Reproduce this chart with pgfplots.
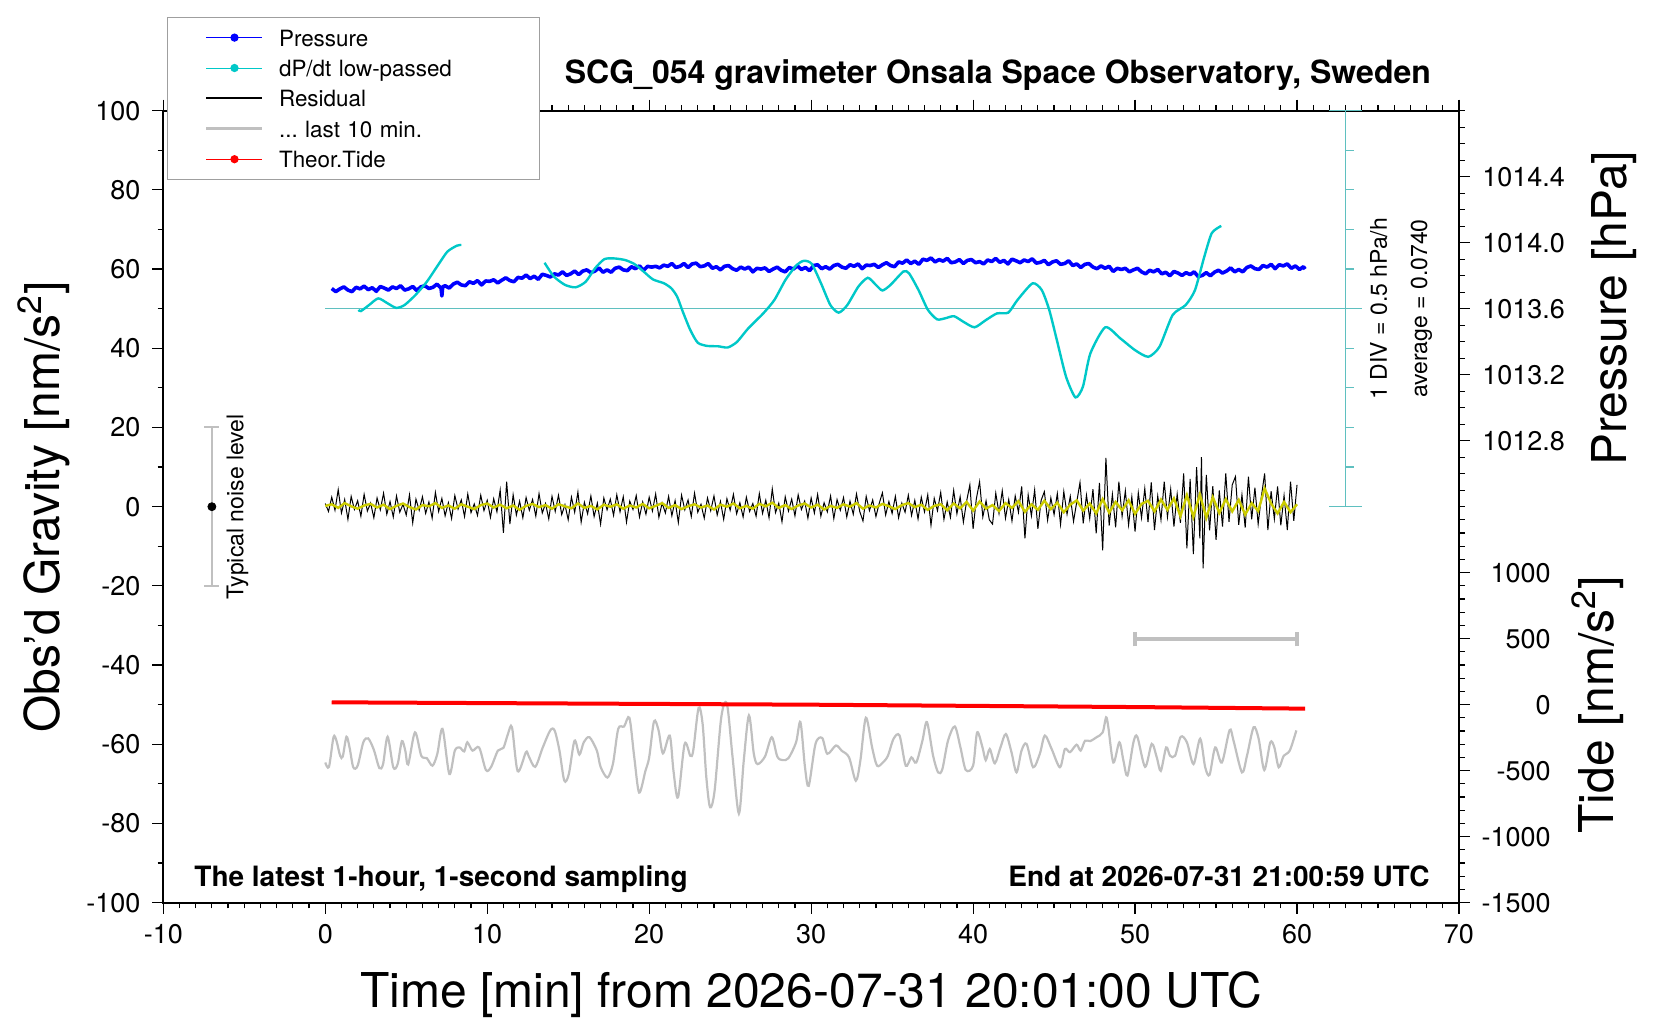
\documentclass[border=0pt]{standalone}
\usepackage{fontspec}
\setmainfont{TeX Gyre Heros}
\usepackage{pgfplots}
\pgfplotsset{compat=1.18}
\definecolor{pblue}{RGB}{0,0,255}
\definecolor{dcyan}{RGB}{0,200,200}
\definecolor{bcyan}{RGB}{95,192,192}
\definecolor{resyel}{RGB}{204,204,0}
\definecolor{lgray}{RGB}{192,192,192}
\definecolor{tred}{RGB}{255,0,0}
\pgfplotsset{
  base/.style={at={(0pt,0pt)}, anchor=south west, scale only axis,
    width=647.85pt, height=396pt, xmin=-10, xmax=70,
    tick align=outside, major tick length=5.5pt, minor tick length=2.8pt,
    tick style={black, line width=0.6pt},
    axis line style={line width=1pt, -},
    /pgf/number format/assume math mode=true,
    /pgf/number format/1000 sep={},
    tick label style={font=\fontsize{13.5}{16}\selectfont},
  }
}
\begin{document}
\frenchspacing
\begin{tikzpicture}
\path[use as bounding box] (-81.65pt,-58.65pt) rectangle (748.35pt,451.35pt);
\begin{axis}[base,
  ymin=-100, ymax=100,
  ytick={-100,-80,...,100}, minor ytick={-90,-70,...,90},
  xtick={-10,0,...,70}, minor x tick num=9,
  ytick pos=left, xtick pos=both,
  xticklabel style={inner sep=0pt, anchor=north, yshift=-5.25pt},
  yticklabel style={inner sep=0pt, anchor=east, xshift=-5.8pt},
  legend image code/.code={\draw[mark repeat=2,mark phase=2,#1] plot coordinates {(0pt,0pt) (14pt,0pt) (28pt,0pt)};},
  legend cell align=left,
  legend style={at={(axis description cs:0.00286,1.1189)}, anchor=north west,
    draw=gray!75, line width=0.6pt, fill=white,
    inner xsep=18.65pt, inner ysep=5pt,
    font=\fontsize{11.2}{13}\selectfont,
    row sep=4.7pt, column sep=7.5pt,
    nodes={inner sep=0pt, text height=9.5pt, text depth=1pt, text width=111.6pt}},
]
\addlegendimage{pblue, line width=0.5pt, mark=*, mark size=1.8pt}
\addlegendentry{Pressure}
\addlegendimage{dcyan, line width=0.5pt, mark=*, mark size=1.8pt}
\addlegendentry{dP/dt low-passed}
\addlegendimage{black, line width=1pt}
\addlegendentry{Residual}
\addlegendimage{lgray, line width=1.6pt}
\addlegendentry{... last 10 min.}
\addlegendimage{tred, line width=0.5pt, mark=*, mark size=1.8pt}
\addlegendentry{Theor.Tide}

% last 10 min residual (gray)
\addplot[lgray, line width=1.1pt, smooth, tension=0.5, forget plot] coordinates {
(0.0,-64.6) (0.23,-65.7) (0.51,-58.2) (0.69,-59.1) (0.92,-62.9) (1.08,-63.1) (1.31,-58.1) (1.5,-60.8)
(1.73,-65.8) (2.0,-65.4) (2.35,-59.5) (2.65,-58.5) (3.0,-61.4) (3.34,-66.0) (3.57,-65.0) (3.85,-58.1)
(4.2,-65.8) (4.47,-65.0) (4.73,-59.2) (4.94,-61.6) (5.12,-65.1) (5.54,-57.0) (5.93,-62.9) (6.27,-63.5)
(6.62,-65.4) (6.92,-62.4) (7.24,-56.1) (7.66,-67.5) (8.0,-61.6) (8.3,-60.8) (8.58,-61.8) (8.77,-59.5)
(9.09,-61.6) (9.5,-60.8) (9.92,-66.5) (10.24,-65.7) (10.66,-61.6) (11.0,-60.9) (11.28,-57.4) (11.53,-55.7)
(11.88,-66.8) (12.39,-62.0) (12.55,-62.9) (12.96,-65.7) (13.43,-60.8) (13.89,-56.5) (14.16,-56.5) (14.46,-61.6)
(14.76,-69.2) (15.04,-67.5) (15.39,-59.1) (15.69,-62.6) (15.96,-59.5) (16.31,-58.2) (16.77,-61.6) (17.0,-65.7)
(17.42,-68.4) (17.76,-65.0) (18.09,-56.1) (18.45,-55.5) (18.78,-53.3) (19.08,-63.3) (19.38,-72.2) (19.77,-66.7)
(20.0,-63.3) (20.3,-54.2) (20.58,-56.5) (20.85,-62.3) (21.27,-57.8) (21.5,-66.7) (21.78,-73.4) (22.19,-59.9)
(22.54,-62.9) (22.72,-61.6) (23.05,-50.8) (23.3,-54.9) (23.53,-68.4) (23.76,-75.9) (24.04,-71.7) (24.45,-53.2)
(24.8,-49.8) (25.15,-63.3) (25.54,-77.5) (25.84,-64.1) (26.16,-52.7) (26.46,-62.4) (26.69,-65.0) (27.15,-63.1)
(27.57,-58.2) (27.91,-63.1) (28.24,-64.0) (28.6,-63.5) (29.07,-59.5) (29.34,-54.4) (29.62,-65.8) (29.85,-70.5)
(30.27,-59.9) (30.68,-58.4) (31.0,-62.4) (31.53,-60.3) (31.88,-61.6) (32.34,-63.3) (32.76,-69.2) (33.04,-64.1)
(33.38,-53.3) (33.77,-60.9) (34.07,-65.4) (34.43,-64.6) (34.74,-62.9) (35.09,-58.6) (35.46,-57.8) (35.84,-65.4)
(36.19,-63.3) (36.49,-64.6) (36.87,-59.1) (37.15,-54.4) (37.53,-62.9) (37.84,-67.1) (38.1,-66.3) (38.45,-59.1)
(38.87,-55.5) (39.22,-60.8) (39.55,-66.5) (40.0,-65.4) (40.25,-57.0) (40.58,-60.8) (40.78,-64.0) (41.03,-61.2)
(41.34,-64.8) (41.69,-60.8) (42.02,-57.4) (42.37,-62.0) (42.68,-67.1) (42.99,-61.6) (43.3,-59.9) (43.71,-65.8)
(44.12,-62.4) (44.43,-57.8) (44.85,-61.2) (45.36,-65.8) (45.67,-61.2) (45.98,-62.0) (46.39,-60.1) (46.64,-61.6)
(46.91,-59.1) (47.22,-59.2) (47.63,-58.2) (48.0,-57.0) (48.21,-53.2) (48.35,-55.7) (48.66,-64.6) (49.03,-59.5)
(49.28,-64.1) (49.53,-67.9) (49.9,-59.5) (50.14,-58.1) (50.62,-65.7) (51.03,-59.9) (51.34,-63.3) (51.59,-66.7)
(51.92,-60.8) (52.16,-62.9) (52.47,-62.9) (52.82,-58.1) (53.2,-59.5) (53.61,-65.0) (54.02,-58.6) (54.33,-65.8)
(54.6,-67.7) (54.95,-60.8) (55.36,-64.6) (55.84,-56.4) (56.08,-59.1) (56.6,-67.1) (56.91,-62.9) (57.32,-55.7)
(57.63,-58.6) (57.98,-66.5) (58.35,-59.5) (58.6,-60.8) (58.87,-65.8) (59.18,-62.9) (59.55,-61.6) (59.96,-56.5)
};

% pressure (blue), plotted in gravity units
\addplot[pblue, line width=1.8pt, line join=round, forget plot] coordinates {
(0.4,55.1) (0.65,54.3) (0.9,55.0) (1.15,55.5) (1.4,54.7) (1.65,54.3) (1.9,55.4) (2.15,55.0) (2.4,55.7) (2.65,54.8)
(2.9,55.3) (3.15,54.4) (3.4,55.6) (3.65,55.2) (3.9,54.7) (4.15,55.5) (4.4,55.1) (4.65,55.8) (4.9,54.7) (5.15,55.0)
(5.4,55.6) (5.65,54.6) (5.9,55.5) (6.15,55.8) (6.4,55.1) (6.65,55.4) (6.9,56.2) (7.15,55.2) (7.2,53.2) (7.25,55.5)
(7.4,55.8) (7.65,55.2) (7.9,56.2) (8.15,56.7) (8.4,56.0) (8.65,55.8) (8.9,56.8) (9.15,56.4) (9.4,57.1) (9.65,56.0)
(9.9,57.0) (10.15,56.9) (10.4,57.3) (10.65,56.5) (10.9,57.2) (11.15,57.8) (11.4,57.1) (11.65,56.8) (11.9,57.9) (12.15,57.7)
(12.4,58.5) (12.65,57.6) (12.9,58.2) (13.15,57.4) (13.4,58.7) (13.65,58.4) (13.9,58.0) (14.15,58.8) (14.4,58.5) (14.65,59.3)
(14.9,58.4) (15.15,58.8) (15.4,59.5) (15.65,58.6) (15.9,59.5) (16.15,59.8) (16.4,59.1) (16.65,59.5) (16.9,60.3) (17.15,59.2)
(17.4,59.8) (17.65,59.2) (17.9,60.2) (18.15,60.5) (18.4,59.8) (18.65,59.6) (18.9,60.6) (19.15,60.1) (19.4,60.8) (19.65,59.7)
(19.9,60.7) (20.15,60.5) (20.4,60.7) (20.65,60.3) (20.9,61.0) (21.15,60.7) (21.4,61.4) (21.65,60.4) (21.9,60.7) (22.15,61.4)
(22.4,60.4) (22.65,61.3) (22.9,61.5) (23.15,60.6) (23.4,60.8) (23.65,61.4) (23.9,60.2) (24.15,60.6) (24.4,59.8) (24.65,60.7)
(24.9,60.9) (25.15,60.1) (25.4,59.7) (25.65,60.5) (25.9,60.0) (26.15,60.5) (26.4,59.3) (26.65,60.2) (26.9,60.0) (27.15,60.3)
(27.4,59.4) (27.65,60.0) (27.9,60.5) (28.15,59.7) (28.4,59.3) (28.65,60.4) (28.9,60.0) (29.15,60.8) (29.4,59.9) (29.65,60.4)
(29.9,59.6) (30.15,60.9) (30.4,61.1) (30.65,60.1) (30.9,60.6) (31.15,60.0) (31.4,60.9) (31.65,61.2) (31.9,60.5) (32.15,60.2)
(32.4,61.1) (32.65,60.7) (32.9,61.3) (33.15,60.1) (33.4,61.0) (33.65,60.9) (33.9,61.2) (34.15,60.4) (34.4,61.1) (34.65,61.6)
(34.9,60.9) (35.15,60.6) (35.4,61.8) (35.65,61.5) (35.9,62.3) (36.15,61.4) (36.4,62.0) (36.65,61.2) (36.9,62.5) (37.15,62.2)
(37.4,62.8) (37.65,61.8) (37.9,62.4) (38.15,62.0) (38.4,62.7) (38.65,61.6) (38.9,61.8) (39.15,62.4) (39.4,61.4) (39.65,62.2)
(39.9,62.4) (40.15,61.6) (40.4,61.9) (40.65,61.3) (40.9,62.3) (41.15,61.9) (41.4,62.7) (41.65,61.7) (41.9,62.2) (42.15,61.3)
(42.4,62.5) (42.65,62.1) (42.9,61.6) (43.15,62.3) (43.4,61.9) (43.65,62.6) (43.9,61.5) (44.15,61.7) (44.4,62.2) (44.65,61.1)
(44.9,61.8) (45.15,62.1) (45.4,61.2) (45.65,61.4) (45.9,62.1) (46.15,60.9) (46.4,61.3) (46.65,60.4) (46.9,61.2) (47.15,61.4)
(47.4,60.5) (47.65,60.1) (47.9,60.8) (48.15,60.2) (48.4,60.7) (48.65,59.4) (48.9,60.2) (49.15,59.9) (49.4,60.2) (49.65,59.3)
(49.9,59.8) (50.15,60.2) (50.4,59.3) (50.65,58.8) (50.9,59.7) (51.15,59.3) (51.4,59.9) (51.65,58.8) (51.9,59.2) (52.15,58.3)
(52.4,59.4) (52.65,59.0) (52.9,58.4) (53.15,59.1) (53.4,58.6) (53.65,59.3) (53.9,58.1) (54.15,58.4) (54.4,59.1) (54.65,58.3)
(54.9,59.2) (55.15,59.7) (55.4,59.0) (55.65,59.5) (55.9,60.3) (56.15,59.3) (56.4,59.9) (56.65,59.3) (56.9,60.4) (57.15,60.8)
(57.4,60.1) (57.65,59.9) (57.9,60.9) (58.15,60.5) (58.4,61.2) (58.65,60.1) (58.9,61.1) (59.15,60.8) (59.4,61.3) (59.65,60.2)
(59.9,60.8) (60.15,59.9) (60.4,60.6) (60.5,60.0)
};

% dP/dt scale (cyan)
\addplot[bcyan, line width=0.8pt, forget plot] coordinates {(0,50) (64,50)};
\addplot[bcyan, line width=0.8pt, forget plot] coordinates {(63,0) (63,100)};
\addplot[bcyan, line width=0.8pt, forget plot] coordinates {(62,0) (64,0)};
\addplot[bcyan, line width=0.8pt, forget plot] coordinates {(62,100) (64,100)};
\addplot[bcyan, line width=0.6pt, unbounded coords=jump, forget plot] coordinates {
(63,10) (63.5,10) (nan,nan) (63,20) (63.5,20) (nan,nan) (63,30) (63.5,30) (nan,nan) (63,40) (63.5,40) (nan,nan)
(63,60) (63.5,60) (nan,nan) (63,70) (63.5,70) (nan,nan) (63,80) (63.5,80) (nan,nan) (63,90) (63.5,90)};

% dP/dt low-passed (cyan)
\addplot[dcyan, line width=1.2pt, smooth, tension=0.4, forget plot] coordinates {
(2.05,49.7) (2.2,49.4) (2.7,50.9) (3.27,52.6) (3.85,51.35) (4.38,50.2) (4.89,50.9) (5.58,53.5) (6.27,56.8)
(6.97,61.05) (7.54,64.4) (8.12,65.9) (8.4,66.1)};
\addplot[dcyan, line width=1.2pt, smooth, tension=0.4, forget plot] coordinates {
(13.54,61.6) (14.12,58.1) (14.81,56.0) (15.46,55.4) (16.08,56.8) (16.66,60.2) (17.23,62.5) (17.81,62.7)
(18.5,62.3) (19.08,61.3) (19.65,59.4) (20.23,57.4) (20.92,56.4) (21.38,55.1) (21.73,53.0) (22.08,49.2)
(22.54,44.6) (23.0,41.4) (23.58,40.6) (24.27,40.5) (24.85,40.2) (25.42,41.6) (26.11,45.0) (27.04,48.8)
(27.73,52.2) (28.42,57.3) (29.11,61.05) (29.57,62.1) (30.04,61.3) (30.61,56.4) (31.19,50.9) (31.7,49.0)
(32.23,50.9) (32.92,55.6) (33.5,57.8) (34.0,56.0) (34.4,54.6) (34.9,56.0) (35.7,59.4) (36.05,58.9)
(36.63,54.7) (37.21,49.7) (37.78,47.3) (38.3,47.6) (38.82,48.1) (39.4,46.7) (40.09,45.3) (40.78,47.1)
(41.47,48.8) (42.17,49.0) (42.74,52.2) (43.67,56.4) (44.24,54.7) (44.7,49.7) (45.17,42.1) (45.74,32.8)
(46.32,27.6) (46.78,30.3) (47.24,38.7) (48.16,45.3) (49.09,42.5) (50.01,39.5) (50.82,37.85) (51.51,40.4)
(52.32,48.4) (53.12,50.9) (53.7,54.7) (54.28,63.2) (54.74,69.1) (55.32,70.9)};

% residual (black)
\addplot[black, line width=0.5pt, forget plot] coordinates {
(0.0,0.8) (0.2,-1.2) (0.4,2.4) (0.6,-0.9) (0.8,4.3) (1.0,-1.6) (1.2,1.8) (1.4,-3.2) (1.6,2.6) (1.8,-0.7)
(2.0,1.5) (2.2,-2.4) (2.4,3.1) (2.6,-1.1) (2.8,0.9) (3.0,-2.8) (3.2,2.2) (3.4,-0.8) (3.6,3.4) (3.8,-1.9)
(4.0,1.3) (4.2,-2.6) (4.4,2.7) (4.6,-1.4) (4.8,0.6) (5.0,-2.1) (5.2,3.0) (5.4,-4.1) (5.6,1.9) (5.8,-0.9)
(6.0,2.5) (6.2,-1.7) (6.4,1.2) (6.6,-2.9) (6.8,3.6) (7.0,-1.2) (7.2,2.1) (7.4,-2.3) (7.6,1.0) (7.8,-3.0)
(8.0,2.8) (8.2,-0.6) (8.4,1.7) (8.6,-2.5) (8.8,3.2) (9.0,-1.5) (9.2,0.7) (9.4,-2.2) (9.6,2.9) (9.8,-1.0)
(10.0,1.6) (10.2,-2.7) (10.4,2.0) (10.6,-1.3) (10.8,4.2) (11.0,-6.6) (11.2,6.3) (11.4,-4.4) (11.6,3.0) (11.8,-2.1)
(12.0,1.4) (12.2,-2.8) (12.4,2.3) (12.6,-0.9) (12.8,1.8) (13.0,-2.4) (13.2,3.3) (13.4,-1.6) (13.6,0.8) (13.8,-3.1)
(14.0,2.6) (14.2,-1.2) (14.4,2.9) (14.6,-2.0) (14.8,0.5) (15.0,-3.3) (15.2,2.4) (15.4,-1.4) (15.6,3.7) (15.8,-3.9)
(16.0,1.1) (16.2,-1.8) (16.4,2.7) (16.6,-2.5) (16.8,0.9) (17.0,-4.4) (17.2,2.2) (17.4,-0.8) (17.6,1.9) (17.8,-2.2)
(18.0,3.0) (18.2,-1.3) (18.4,2.5) (18.6,-3.9) (18.8,1.4) (19.0,-0.7) (19.2,2.8) (19.4,-2.6) (19.6,1.2) (19.8,-1.9)
(20.0,2.4) (20.2,-1.1) (20.4,3.2) (20.6,-2.7) (20.8,0.9) (21.0,-1.6) (21.2,2.6) (21.4,-2.3) (21.6,1.5) (21.8,-4.0)
(22.0,2.9) (22.2,-0.8) (22.4,1.7) (22.6,-2.5) (22.8,3.4) (23.0,-1.4) (23.2,0.6) (23.4,-2.9) (23.6,2.2) (23.8,-1.0)
(24.0,2.7) (24.2,-2.1) (24.4,1.3) (24.6,-3.2) (24.8,2.0) (25.0,-0.9) (25.2,3.1) (25.4,-1.8) (25.6,1.0) (25.8,-2.6)
(26.0,2.4) (26.2,-1.2) (26.4,0.8) (26.6,-2.4) (26.8,3.3) (27.0,-1.7) (27.2,1.6) (27.4,-2.8) (27.6,4.5) (27.8,-1.5)
(28.0,0.9) (28.2,-3.8) (28.4,2.5) (28.6,-1.1) (28.8,1.9) (29.0,-2.3) (29.2,3.0) (29.4,-0.7) (29.6,1.4) (29.8,-2.9)
(30.0,2.2) (30.2,-1.6) (30.4,3.1) (30.6,-2.4) (30.8,1.0) (31.0,-1.3) (31.2,2.7) (31.4,-3.0) (31.6,1.8) (31.8,-0.9)
(32.0,2.3) (32.2,-2.6) (32.4,1.4) (32.6,-1.9) (32.8,3.2) (33.0,-1.2) (33.2,-3.6) (33.4,2.6) (33.6,-1.0) (33.8,1.7)
(34.0,-2.5) (34.2,0.8) (34.4,3.5) (34.6,-2.1) (34.8,1.3) (35.0,-1.7) (35.2,2.6) (35.4,-2.8) (35.6,0.9) (35.8,-1.4)
(36.0,2.9) (36.2,-2.2) (36.4,1.6) (36.6,-3.1) (36.8,2.4) (37.0,-1.3) (37.2,3.0) (37.4,-4.7) (37.6,2.1) (37.8,-1.0)
(38.0,3.6) (38.2,-3.2) (38.4,1.2) (38.6,-2.7) (38.8,4.1) (39.0,-1.8) (39.2,2.5) (39.4,-3.9) (39.6,1.4) (39.8,5.5)
(40.0,-5.6) (40.2,2.0) (40.4,6.3) (40.6,-2.6) (40.8,1.5) (41.0,-3.3) (41.2,-4.4) (41.4,3.4) (41.6,-1.7) (41.8,4.0)
(42.0,-2.9) (42.2,1.8) (42.4,-3.6) (42.6,2.7) (42.8,-1.4) (43.0,5.1) (43.2,-8.0) (43.4,3.0) (43.6,-2.3) (43.8,4.2)
(44.0,-5.6) (44.2,1.6) (44.4,3.8) (44.6,-3.4) (44.8,2.2) (45.0,-2.0) (45.2,3.3) (45.4,-4.5) (45.6,3.8) (45.8,-1.9)
(46.0,2.6) (46.2,-3.7) (46.4,1.2) (46.6,6.1) (46.8,-4.2) (47.0,2.9) (47.2,-3.0) (47.4,4.4) (47.6,-6.7) (47.8,6.0)
(48.0,-11.0) (48.2,12.3) (48.4,-4.8) (48.6,3.1) (48.8,-5.2) (49.0,6.3) (49.2,-2.4) (49.4,4.0) (49.6,-4.6) (49.8,2.5)
(50.0,-6.3) (50.2,3.5) (50.4,-2.8) (50.6,4.6) (50.8,-3.9) (51.0,6.1) (51.2,-5.9) (51.4,2.7) (51.6,-3.3) (51.8,6.3)
(52.0,-2.6) (52.2,4.4) (52.4,-5.0) (52.6,3.2) (52.8,-4.1) (53.0,8.4) (53.2,-10.5) (53.4,7.0) (53.6,-12.0) (53.8,10.0)
(54.0,-8.0) (54.1,12.5) (54.2,-15.6) (54.4,8.0) (54.6,-6.0) (54.8,5.2) (55.0,-8.4) (55.2,4.1) (55.4,-5.0) (55.6,8.4)
(55.8,-3.8) (56.0,5.5) (56.2,7.6) (56.4,-4.6) (56.6,3.0) (56.8,-5.3) (57.0,7.6) (57.2,-3.2) (57.4,4.8) (57.6,-4.4)
(57.8,2.6) (58.0,8.4) (58.2,-5.9) (58.4,3.9) (58.6,-3.1) (58.8,5.1) (59.0,-4.7) (59.2,2.8) (59.4,-5.9) (59.6,6.3)
(59.8,-3.6) (60.0,5.5)
};

% smoothed residual (yellow)
\addplot[resyel, line width=1.2pt, forget plot] coordinates {
(0.0,0.2) (0.4,0.6) (0.8,-0.3) (1.2,0.9) (1.6,0.1) (2.0,-0.5) (2.4,0.3) (2.8,0.7) (3.2,-0.2) (3.6,0.5)
(4.0,-0.6) (4.4,0.2) (4.8,0.8) (5.2,-0.1) (5.6,-0.7) (6.0,0.4) (6.4,0.1) (6.8,0.9) (7.2,-0.3) (7.6,0.3)
(8.0,-0.5) (8.4,0.6) (8.8,0.0) (9.2,-0.6) (9.6,0.4) (10.0,0.8) (10.4,-0.2) (10.8,0.5) (11.2,-0.4) (11.6,0.3)
(12.0,-0.8) (12.4,0.2) (12.8,0.7) (13.2,-0.1) (13.6,0.4) (14.0,-0.5) (14.4,0.6) (14.8,0.1) (15.2,-0.4) (15.6,0.8)
(16.0,-0.3) (16.4,0.2) (16.8,-0.7) (17.2,0.5) (17.6,0.0) (18.0,0.6) (18.4,-0.5) (18.8,0.3) (19.2,-0.2) (19.6,0.7)
(20.0,-0.4) (20.4,0.2) (20.8,0.9) (21.2,-0.3) (21.6,0.4) (22.0,-0.6) (22.4,0.1) (22.8,0.6) (23.2,-0.2) (23.6,0.3)
(24.0,-0.7) (24.4,0.5) (24.8,0.0) (25.2,0.8) (25.6,-0.4) (26.0,0.2) (26.4,-0.5) (26.8,0.7) (27.2,0.1) (27.6,1.0)
(28.0,-0.3) (28.4,0.4) (28.8,-0.6) (29.2,0.3) (29.6,0.8) (30.0,-0.2) (30.4,0.5) (30.8,-0.7) (31.2,0.2) (31.6,-0.3)
(32.0,0.6) (32.4,0.0) (32.8,0.9) (33.2,-0.5) (33.6,0.3) (34.0,-0.2) (34.4,0.7) (34.8,0.1) (35.2,-0.6) (35.6,0.4)
(36.0,0.9) (36.4,-0.1) (36.8,0.5) (37.2,-0.8) (37.6,0.2) (38.0,0.6) (38.4,-0.9) (38.8,0.8) (39.2,-0.4) (39.6,1.2)
(40.0,-1.0) (40.4,1.3) (40.8,-0.5) (41.2,0.4) (41.6,-1.1) (42.0,0.9) (42.4,-0.3) (42.8,1.4) (43.2,-1.3) (43.6,0.6)
(44.0,-0.8) (44.4,1.5) (44.8,-0.6) (45.2,1.0) (45.6,-1.4) (46.0,0.5) (46.4,1.6) (46.8,-1.0) (47.2,0.8) (47.6,-1.7)
(48.0,1.9) (48.4,-1.5) (48.8,1.2) (49.2,-0.9) (49.6,1.6) (50.0,-1.8) (50.4,0.7) (50.8,1.5) (51.2,-1.2) (51.6,1.8)
(52.0,-0.8) (52.4,2.1) (52.8,-2.4) (53.2,2.9) (53.6,-2.6) (54.0,3.1) (54.4,-2.8) (54.8,2.4) (55.2,-1.6) (55.6,1.9)
(56.0,-1.2) (56.4,1.7) (56.8,-2.0) (57.2,0.9) (57.6,-1.1) (58.0,4.6) (58.4,0.8) (58.8,-1.7) (59.2,1.2) (59.6,-1.4)
(60.0,0.6)
};

% typical noise level
\addplot[lgray, line width=1pt, forget plot] coordinates {(-7,-20) (-7,20)};
\addplot[lgray, line width=1pt, forget plot] coordinates {(-7.46,20) (-6.54,20)};
\addplot[lgray, line width=1pt, forget plot] coordinates {(-7.46,-20) (-6.54,-20)};
\addplot[only marks, mark=*, mark size=2pt, black, forget plot] coordinates {(-7,0)};

% last 10 minutes bar
\addplot[lgray, line width=2pt, forget plot] coordinates {(50,-33.5) (60,-33.5)};
\addplot[lgray, line width=2pt, forget plot] coordinates {(50,-35.3) (50,-31.7)};
\addplot[lgray, line width=2pt, forget plot] coordinates {(60,-35.3) (60,-31.7)};

\node[rotate=90, anchor=base, font=\fontsize{11.5}{13}\selectfont] at (axis cs:65.54,50) {1 DIV = 0.5 hPa/h};
\node[rotate=90, anchor=base, font=\fontsize{11.5}{13}\selectfont] at (axis cs:68.04,50) {average = 0.0740};
\node[rotate=90, anchor=base, font=\fontsize{11.5}{13}\selectfont] at (axis cs:-5.06,0) {Typical noise level};
\end{axis}

% pressure axis (right, upper)
\begin{axis}[base,
  ymin=1010.0, ymax=1014.8, hide x axis, axis y line*=right,
  ytick={1012.8,1013.2,1013.6,1014.0,1014.4},
  minor ytick={1012.4,1012.5,1012.6,1012.7,1012.9,1013.0,1013.1,1013.3,1013.4,1013.5,1013.7,1013.8,1013.9,1014.1,1014.2,1014.3,1014.5,1014.6,1014.7,1014.8},
  yticklabel style={inner sep=0pt, anchor=west, xshift=6pt,
    /pgf/number format/fixed, /pgf/number format/fixed zerofill, /pgf/number format/precision=1},
]
\addplot[draw=none, forget plot] coordinates {(0,1013)};
\end{axis}

% tide axis (right, lower)
\begin{axis}[base,
  ymin=-1500, ymax=4500, hide x axis, axis y line*=right,
  ytick={-1500,-1000,-500,0,500,1000},
  minor ytick={-1400,-1300,-1200,-1100,-900,-800,-700,-600,-400,-300,-200,-100,100,200,300,400,600,700,800,900,1100,1200,1300,1400},
  yticklabel style={inner sep=0pt, anchor=east, xshift=40.5pt},
]
\addplot[tred, line width=2pt, forget plot] coordinates {
(0.4,18) (10,12) (20,6) (30,0) (40,-9) (50,-18) (60.5,-30)};
\end{axis}

% texts around the axes
\node[inner sep=0pt, anchor=base east, font=\bfseries\fontsize{16}{19}\selectfont] at (634pt,409.75pt) {SCG\_054 gravimeter Onsala Space Observatory, Sweden};
\node[inner sep=0pt, anchor=base west, font=\bfseries\fontsize{14}{16}\selectfont] at (15.35pt,8pt) {The latest 1-hour, 1-second sampling};
\node[inner sep=0pt, anchor=base east, font=\bfseries\fontsize{14}{16}\selectfont] at (633.3pt,8pt) {End at 2026-07-31 21:00:59 UTC};
\node[inner sep=0pt, anchor=base, font=\fontsize{24}{28}\selectfont] at (323.9pt,-52.4pt) {Time [min] from 2026-07-31 20:01:00 UTC};
\node[inner sep=0pt, rotate=90, anchor=base, font=\fontsize{24}{28}\selectfont] at (-51.65pt,198pt) {Obs'd Gravity [nm/s\textsuperscript{2}]};
\node[inner sep=0pt, rotate=90, anchor=base, font=\fontsize{24}{28}\selectfont] at (731.7pt,297.2pt) {Pressure [hPa]};
\node[inner sep=0pt, rotate=90, anchor=base, font=\fontsize{24}{28}\selectfont] at (725pt,98.85pt) {Tide [nm/s\textsuperscript{2}]};
\end{tikzpicture}
\end{document}
